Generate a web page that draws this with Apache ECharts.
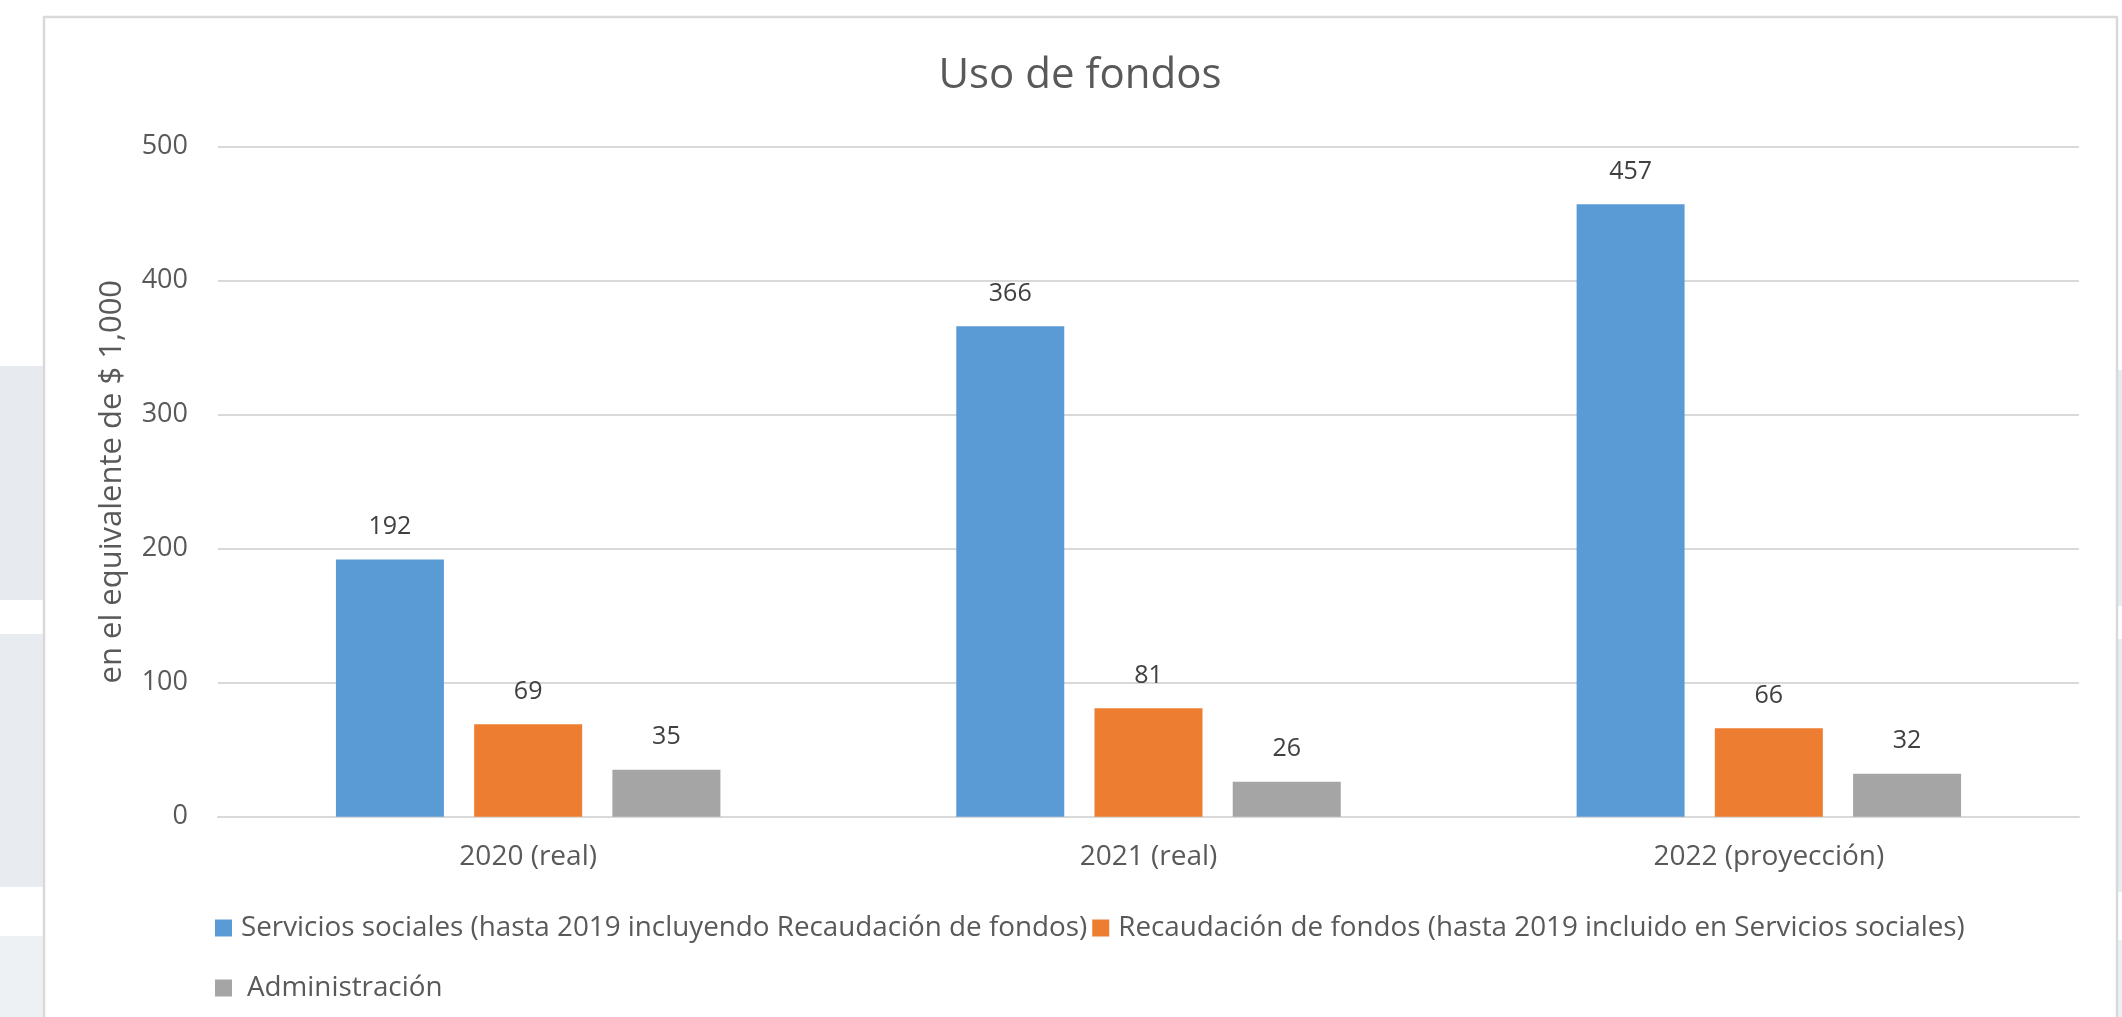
<!DOCTYPE html>
<html>
<head>
<meta charset="utf-8">
<script src="https://cdn.jsdelivr.net/npm/echarts@6/dist/echarts.min.js"></script>
<style>
html,body{margin:0;padding:0;background:#fff;}
#c{width:2122px;height:1017px;}
</style>
</head>
<body>
<div id="c"></div>
<script>
const categories = ['2020 (real)', '2021 (real)', '2022 (proyección)'];
const serviciosSociales = [192, 366, 457];
const recaudacionFondos = [69, 81, 66];
const administracion = [35, 26, 32];
const yTicks = { min: 0, max: 500, interval: 100 };
const seriesNames = [
  'Servicios sociales (hasta 2019 incluyendo Recaudación de fondos)',
  'Recaudación de fondos (hasta 2019 incluido en Servicios sociales)',
  'Administración'
];
const titleText = 'Uso de fondos';
const yAxisName = 'en el equivalente de $ 1,000';

const FONT = '"Open Sans", "Noto Sans", sans-serif';
const colors = ['#5B9BD5', '#ED7D31', '#A5A5A5'];

const chart = echarts.init(document.getElementById('c'), null, { renderer: 'canvas' });

const labelStyle = {
  show: true,
  position: 'top',
  distance: 20,
  fontFamily: FONT,
  fontSize: 25,
  color: '#404040'
};

function barSeries(name, data, color) {
  return {
    name: name,
    type: 'bar',
    data: data,
    barWidth: 108,
    barGap: '28%',
    itemStyle: { color: color },
    label: labelStyle,
    emphasis: { disabled: true }
  };
}

chart.setOption({
  animation: false,
  backgroundColor: '#ffffff',
  graphic: [
    { type: 'rect', z: -10, shape: { x: 0, y: 366, width: 43, height: 234 }, style: { fill: '#e7eaee' } },
    { type: 'rect', z: -10, shape: { x: 0, y: 634, width: 43, height: 253 }, style: { fill: '#e8ebef' } },
    { type: 'rect', z: -10, shape: { x: 0, y: 936, width: 43, height: 90 }, style: { fill: '#eef1f4' } },
    { type: 'rect', z: -10, shape: { x: 2118, y: 370, width: 10, height: 236 }, style: { fill: '#e7eaee' } },
    { type: 'rect', z: -10, shape: { x: 2118, y: 639, width: 10, height: 253 }, style: { fill: '#e8ebef' } },
    { type: 'rect', z: -10, shape: { x: 2118, y: 940, width: 10, height: 90 }, style: { fill: '#eef1f4' } },
    { type: 'rect', z: -9, shape: { x: 44, y: 17, width: 2073, height: 1030 }, style: { fill: '#ffffff', stroke: '#d9d9d9', lineWidth: 2.5 } }
  ],
  title: {
    text: titleText,
    left: 1080,
    top: 55,
    textAlign: 'center',
    padding: 0,
    textStyle: { fontFamily: FONT, fontSize: 42, fontWeight: 'normal', color: '#595959' }
  },
  legend: [
    {
      data: [seriesNames[0], seriesNames[1]],
      left: 215,
      top: 913,
      padding: 0,
      itemWidth: 17,
      itemHeight: 17,
      itemGap: 5,
      icon: 'rect',
      selectedMode: false,
      textStyle: { fontFamily: FONT, fontSize: 27.8, color: '#595959', lineHeight: 30, padding: [0, 0, 0, 4] }
    },
    {
      data: [seriesNames[2]],
      left: 215,
      top: 973,
      padding: 0,
      itemWidth: 17,
      itemHeight: 17,
      icon: 'rect',
      selectedMode: false,
      textStyle: { fontFamily: FONT, fontSize: 27.8, color: '#595959', lineHeight: 30, padding: [0, 0, 0, 10] }
    }
  ],
  grid: { left: 218, right: 43, top: 146.7, bottom: 200.3, containLabel: false },
  xAxis: {
    type: 'category',
    data: categories,
    axisLine: { show: true, lineStyle: { color: '#d9d9d9', width: 2 } },
    axisTick: { show: false },
    axisLabel: { fontFamily: FONT, fontSize: 28, color: '#595959', margin: 26 },
    splitLine: { show: false }
  },
  yAxis: {
    type: 'value',
    min: yTicks.min,
    max: yTicks.max,
    interval: yTicks.interval,
    name: yAxisName,
    nameLocation: 'middle',
    nameGap: 90,
    nameRotate: 90,
    nameTextStyle: { fontFamily: FONT, fontSize: 31, color: '#595959' },
    axisLine: { show: false },
    axisTick: { show: false },
    axisLabel: { fontFamily: FONT, fontSize: 27, color: '#595959', margin: 30 },
    splitLine: { show: true, lineStyle: { color: '#d9d9d9', width: 2 } }
  },
  series: [
    barSeries(seriesNames[0], serviciosSociales, colors[0]),
    barSeries(seriesNames[1], recaudacionFondos, colors[1]),
    barSeries(seriesNames[2], administracion, colors[2])
  ]
});
</script>
</body>
</html>
